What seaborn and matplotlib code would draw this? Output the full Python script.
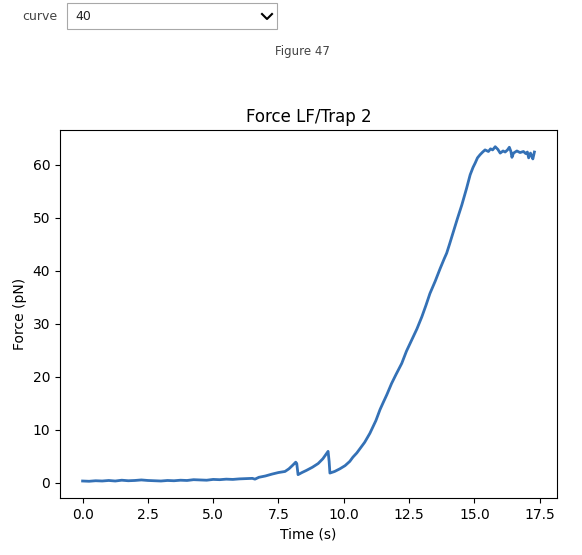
import pandas as pd
import matplotlib
matplotlib.use("Agg")
import matplotlib.pyplot as plt
from matplotlib.patches import Rectangle
from matplotlib.lines import Line2D
import seaborn as sns

# ----------------------------------------
# Data
# ----------------------------------------
time_s = [
    0.0, 0.25, 0.5, 0.75, 1.0, 1.25, 1.5, 1.75, 2.0, 2.25, 2.5, 2.75,
    3.0, 3.25, 3.5, 3.75, 4.0, 4.25, 4.5, 4.75, 5.0, 5.25, 5.5, 5.75,
    6.0, 6.25, 6.5, 6.6, 6.75, 7.0, 7.25, 7.5, 7.75, 7.9, 8.05, 8.16,
    8.2, 8.25, 8.4, 8.57, 8.8, 9.02, 9.2, 9.3, 9.4, 9.44, 9.47, 9.65,
    9.85, 10.05, 10.23, 10.35, 10.5, 10.65, 10.8, 11.0, 11.23, 11.39,
    11.5, 11.65, 11.83, 12.0, 12.22, 12.4, 12.6, 12.8, 12.99, 13.15,
    13.3, 13.5, 13.69, 13.85, 13.94, 14.05, 14.2, 14.35, 14.52, 14.7,
    14.84, 14.95, 15.03, 15.12, 15.22, 15.32, 15.41, 15.54, 15.62, 15.7,
    15.8, 15.9, 15.99, 16.1, 16.18, 16.27, 16.34, 16.4, 16.44, 16.5,
    16.63, 16.75, 16.88, 16.97, 17.03, 17.08, 17.15, 17.2, 17.24, 17.3,
]
force_pn = [
    0.3, 0.25, 0.35, 0.3, 0.4, 0.3, 0.45, 0.35, 0.4, 0.5, 0.4, 0.35,
    0.3, 0.4, 0.35, 0.45, 0.4, 0.55, 0.5, 0.45, 0.6, 0.55, 0.65, 0.6,
    0.7, 0.75, 0.8, 0.65, 1.0, 1.25, 1.6, 1.9, 2.1, 2.6, 3.3, 3.85,
    3.6, 1.5, 1.9, 2.3, 2.9, 3.6, 4.5, 5.2, 5.9, 4.0, 1.8, 2.1,
    2.6, 3.2, 4.0, 4.8, 5.6, 6.6, 7.6, 9.3, 11.7, 13.8,
    15.0, 16.6, 18.7, 20.4, 22.5, 24.8, 26.9, 29.0, 31.3, 33.5,
    35.7, 38.0, 40.4, 42.3, 43.3, 45.0, 47.4, 49.8, 52.4, 55.5,
    58.1, 59.5, 60.3, 61.3, 61.9, 62.4, 62.8, 62.5, 63.0, 62.8,
    63.4, 62.9, 62.2, 62.6, 62.4, 62.8, 63.3, 62.5, 61.4, 62.2,
    62.6, 62.3, 62.5, 62.1, 62.4, 61.3, 62.2, 61.6, 61.1, 62.4,
]
curve_id = "40"
figure_label = "Figure 47"

df = pd.DataFrame({"Time (s)": time_s, "Force (pN)": force_pn})

W, H = 582, 555
fig = plt.figure(figsize=(W / 100, H / 100), dpi=100)


def fx(px):
    return px / W


def fy(py):
    return 1 - py / H


# ----------------------------------------
# Widget header (dropdown + figure label)
# ----------------------------------------
fig.text(fx(57), fy(17), "curve", ha="right", va="center",
         fontsize=9, color="#444444")
fig.add_artist(Rectangle((fx(66.5), fy(29)), fx(277) - fx(66.5), fy(3) - fy(29),
                         transform=fig.transFigure, facecolor="white",
                         edgecolor="#a8a8a8", linewidth=0.8))
fig.text(fx(75), fy(17), curve_id, ha="left", va="center",
         fontsize=9, color="#222222")
fig.add_artist(Line2D([fx(262), fx(267), fx(272)], [fy(14), fy(19), fy(14)],
                      transform=fig.transFigure, color="black", linewidth=1.5))
fig.text(fx(302), fy(52), figure_label, ha="center", va="center",
         fontsize=8.5, color="#444444")

# ----------------------------------------
# Force trace
# ----------------------------------------
ax = fig.add_axes([fx(60), fy(498), fx(557) - fx(60), fy(130) - fy(498)])
sns.lineplot(data=df, x="Time (s)", y="Force (pN)", ax=ax,
             color="#3471b6", linewidth=2.0)
ax.set_title("Force LF/Trap 2")
ax.set_xticks([0.0, 2.5, 5.0, 7.5, 10.0, 12.5, 15.0, 17.5])
ax.set_yticks([0, 10, 20, 30, 40, 50, 60])

fig.savefig("out.png", dpi=100)
